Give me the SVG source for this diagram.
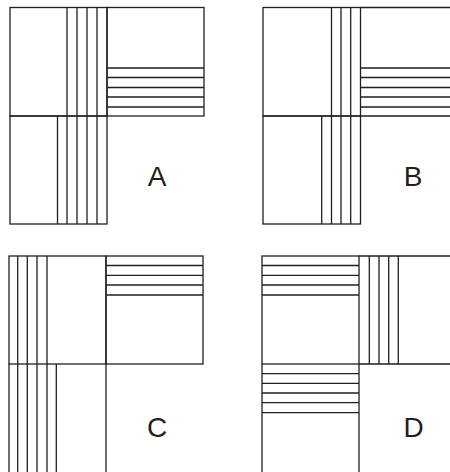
<svg xmlns="http://www.w3.org/2000/svg" width="450" height="472" viewBox="0 0 450 472">
<style>
.l{fill:none;stroke:#231f20;stroke-width:1.3}
.t{font-family:"Liberation Sans",Arial,sans-serif;font-size:28px;fill:#231f20;text-anchor:middle}
</style>
<rect width="450" height="472" fill="#fff"/>
<g id="panelA" class="l">
<rect x="10" y="7.5" width="97" height="108.5"/>
<rect x="107" y="7.5" width="97" height="108.5"/>
<rect x="10" y="116" width="97" height="108"/>
<path d="M67 7.5V116M77 7.5V116M87 7.5V116M97 7.5V116"/>
<path d="M107 68H204M107 77.5H204M107 87.5H204M107 97H204M107 107H204"/>
<path d="M57.5 116V224M67 116V224M77 116V224M87 116V224M97 116V224"/>
</g>
<g id="panelB" class="l">
<rect x="263" y="7.5" width="97.5" height="108.5"/>
<rect x="263" y="116" width="97.5" height="108"/>
<path d="M360.5 7.5H450M360.5 116H450"/>
<path d="M331.5 7.5V116M341 7.5V116M350.7 7.5V116"/>
<path d="M360.5 68H450M360.5 77.5H450M360.5 87.5H450M360.5 97H450M360.5 107H450"/>
<path d="M321.7 116V224M331.5 116V224M341 116V224M350.7 116V224"/>
</g>
<g id="panelC" class="l">
<rect x="9" y="256" width="97" height="108"/>
<rect x="106" y="256" width="97" height="108"/>
<path d="M17.7 256V364M27.3 256V364M37 256V364M47 256V364"/>
<path d="M106 265.5H203M106 275.3H203M106 285H203M106 295H203"/>
<path d="M9 364V472M106 364V472M17.7 364V472M27.3 364V472M37 364V472M47 364V472M56.3 364V472"/>
</g>
<g id="panelD" class="l">
<rect x="262" y="256" width="97" height="108"/>
<path d="M262 265.5H359M262 275.3H359M262 285H359M262 295H359"/>
<path d="M359 256H450M359 364H450"/>
<path d="M369.3 256V364M379 256V364M388.7 256V364M398.3 256V364"/>
<path d="M262 364V472M359 364V472"/>
<path d="M262 373.7H359M262 383.3H359M262 393H359M262 402.7H359M262 412.7H359"/>
</g>
<g id="labels">
<text class="t" x="157" y="186">A</text>
<text class="t" x="413" y="186">B</text>
<text class="t" x="157" y="437">C</text>
<text class="t" x="413.5" y="437">D</text>
</g>
</svg>
